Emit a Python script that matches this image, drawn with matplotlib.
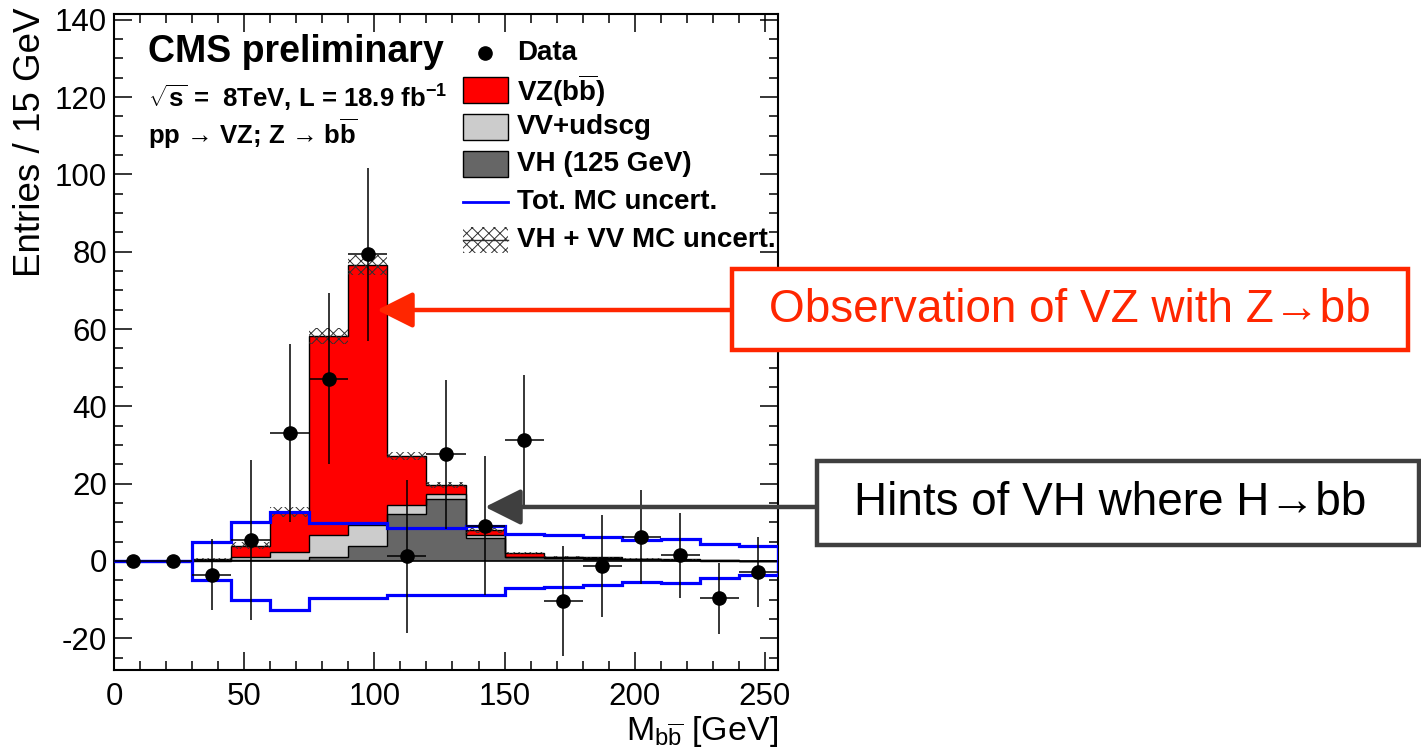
import numpy as np
import matplotlib
matplotlib.use('Agg')
import matplotlib.pyplot as plt
from matplotlib.patches import Rectangle, FancyArrowPatch
from matplotlib.lines import Line2D
from matplotlib.ticker import MultipleLocator

plt.rcParams['font.family'] = ['Liberation Sans', 'DejaVu Sans']
plt.rcParams['mathtext.fontset'] = 'custom'
plt.rcParams['mathtext.rm'] = 'Liberation Sans'
plt.rcParams['mathtext.bf'] = 'Liberation Sans:bold'
plt.rcParams['axes.unicode_minus'] = False
plt.rcParams['hatch.linewidth'] = 0.7

# 15 GeV bins in M(bb)
bin_edges = [0, 15, 30, 45, 60, 75, 90, 105, 120, 135, 150, 165, 180, 195, 210, 225, 240, 255]

# stacked MC components (per bin)
vh_125 = [0, 0, 0.1, 0.3, 0.3, 1.0, 3.9, 12.2, 16.1, 5.9, 0.9, 0.8, 0.6, 0.4, 0.3, 0.1, 0]
vv_udscg = [0, 0, 0.2, 0.7, 2.0, 5.6, 5.5, 2.2, 1.1, 0.7, 0.2, 0.1, 0.1, 0.1, 0.05, 0.05, 0]
vz_bb = [0, 0, 0.2, 3.0, 10.4, 51.6, 67.2, 12.7, 2.4, 1.3, 1.0, 0.2, 0.2, 0.1, 0.05, 0.05, 0]
vhvv_unc = [0, 0, 0.2, 0.8, 1.3, 2.1, 2.6, 1.0, 0.8, 0.6, 0.3, 0.2, 0.2, 0.15, 0.1, 0.05, 0]

# total MC uncertainty band
tot_unc_up = [0, 0, 4.9, 10.2, 12.7, 9.7, 9.7, 8.6, 8.6, 9.0, 7.0, 6.6, 6.2, 5.3, 5.7, 4.3, 3.8]
tot_unc_dn = [0, 0, -5.0, -10.0, -12.8, -9.6, -9.6, -8.7, -8.7, -8.9, -6.9, -6.7, -6.3, -5.4, -5.7, -4.4, -3.7]

# background-subtracted data
data_y = [0, 0, -3.5, 5.5, 33.0, 47.2, 79.3, 1.2, 27.6, 9.1, 31.4, -10.4, -1.3, 6.2, 1.5, -9.7, -2.8]
data_err = [0, 0, 9.3, 20.7, 23.0, 22.0, 22.3, 19.8, 19.2, 18.0, 16.8, 14.3, 13.3, 12.2, 11.0, 9.3, 9.0]

edges = np.array(bin_edges, dtype=float)
centers = 0.5 * (edges[:-1] + edges[1:])
half_width = 0.5 * np.diff(edges)

s1 = np.array(vh_125)
s2 = s1 + np.array(vv_udscg)
s3 = s2 + np.array(vz_bb)
unc = np.array(vhvv_unc)

RED = '#ff2600'
GREY = '#3f3f3f'
BB = r'b$\overline{\mathbf{b}}$'

fig = plt.figure(figsize=(14.21, 7.55), dpi=100)
ax = fig.add_axes([0.0802, 0.1126, 0.4673, 0.8689])

# stack: VH at the bottom, then VV+udscg, then VZ(bb)
ax.stairs(s1, edges, baseline=0, fill=True, color='#666666', zorder=1)
ax.stairs(s2, edges, baseline=s1, fill=True, color='#cccccc', zorder=1)
ax.stairs(s3, edges, baseline=s2, fill=True, color='#ff0000', zorder=1)
for s in (s1, s2, s3):
    ax.stairs(s, edges, color='black', lw=1.0, zorder=2)
ax.axhline(0, color='black', lw=1.2, zorder=2)

# hatched VH+VV uncertainty on top of the stack
ax.stairs(s3 + unc, edges, baseline=s3 - unc, fill=True, facecolor='none',
          edgecolor='#303030', hatch='xxx', lw=0, zorder=3)

# total MC uncertainty
ax.stairs(tot_unc_up, edges, color='#0000ff', lw=2.3, zorder=4)
ax.stairs(tot_unc_dn, edges, color='#0000ff', lw=2.3, zorder=4)

ax.errorbar(centers, data_y, yerr=data_err, xerr=half_width, fmt='o', color='black',
            ms=9.5, elinewidth=1.1, capsize=0, zorder=5)

ax.set_xlim(0, 255)
ax.set_ylim(-28.2, 141.5)
ax.xaxis.set_major_locator(MultipleLocator(50))
ax.xaxis.set_minor_locator(MultipleLocator(10))
ax.yaxis.set_major_locator(MultipleLocator(20))
ax.yaxis.set_minor_locator(MultipleLocator(5))
ax.tick_params(which='both', direction='in', top=True, right=True, width=1.1, labelsize=22.5)
ax.tick_params(which='major', length=13)
ax.tick_params(which='minor', length=6.5)
ax.tick_params(axis='x', pad=9)
ax.tick_params(axis='y', pad=5)
for sp in ax.spines.values():
    sp.set_linewidth(1.5)

ax.set_ylabel('Entries / 15 GeV', fontsize=26.5, loc='top')
ax.yaxis.set_label_coords(-0.1, 1.01)
ax.set_xlabel(r'M$_{\mathrm{b}\overline{\mathrm{b}}}$ [GeV]', fontsize=24.5, loc='right', labelpad=1)

# header
ax.text(0.0512, 0.9268, 'CMS preliminary', transform=ax.transAxes,
        fontsize=27, fontweight='bold', va='baseline')
ax.text(0.0512, 0.8582, r'$\mathbf{\sqrt{s}}$ =  8TeV, L = 18.9 fb$^{\mathbf{-1}}$',
        transform=ax.transAxes, fontsize=18.5, fontweight='bold', va='baseline')
ax.text(0.0512, 0.8018, 'pp → VZ; Z → ' + BB,
        transform=ax.transAxes, fontsize=18.5, fontweight='bold', va='baseline')

# legend
leg_y = [0.9405, 0.884, 0.8277, 0.7713, 0.7134, 0.6555]
lx0, lx1, ltx, lh = 0.5256, 0.5934, 0.607, 0.0396
labels = ['Data', 'VZ(' + BB + ')', 'VV+udscg', 'VH (125 GeV)',
          'Tot. MC uncert.', 'VH + VV MC uncert.']
ax.plot([(lx0 + lx1) / 2], [leg_y[0]], 'o', color='black', ms=9.5, transform=ax.transAxes)
for y, c in zip(leg_y[1:4], ['#ff0000', '#cccccc', '#666666']):
    ax.add_patch(Rectangle((lx0, y - lh / 2), lx1 - lx0, lh, transform=ax.transAxes,
                           facecolor=c, edgecolor='black', lw=1.0))
ax.add_line(Line2D([lx0, lx1], [leg_y[4], leg_y[4]], transform=ax.transAxes,
                   color='#0000ff', lw=2.0))
ax.add_patch(Rectangle((lx0, leg_y[5] - lh / 2), lx1 - lx0, lh, transform=ax.transAxes,
                       facecolor='none', edgecolor='#303030', hatch='xxx', lw=0))
ax.add_line(Line2D([lx0, lx1], [leg_y[5], leg_y[5]], transform=ax.transAxes,
                   color='#303030', lw=1.0))
for y, lab in zip(leg_y, labels):
    ax.text(ltx, y, lab, transform=ax.transAxes, fontsize=20, fontweight='bold', va='center')

# call-out boxes with arrows into the plot
fig.add_artist(Rectangle((0.5151, 0.5364), 0.4757, 0.1073, transform=fig.transFigure,
                         facecolor='white', edgecolor=RED, lw=3.2, zorder=5))
fig.text(0.753, 0.5894, 'Observation of VZ with Z→bb', color=RED, fontsize=33,
         ha='center', va='center', zorder=6)
fig.add_artist(FancyArrowPatch((0.5151, 0.5894), (0.2653, 0.5894), transform=fig.transFigure,
                               arrowstyle='-|>,head_length=1.0,head_width=0.5',
                               mutation_scale=22, lw=3.2, color=RED,
                               shrinkA=0, shrinkB=0, zorder=4))

fig.add_artist(Rectangle((0.575, 0.2781), 0.4236, 0.1113, transform=fig.transFigure,
                         facecolor='white', edgecolor=GREY, lw=3.2, zorder=5))
fig.text(0.7812, 0.3338, 'Hints of VH where H→bb', color='black', fontsize=33,
         ha='center', va='center', zorder=6)
fig.add_artist(FancyArrowPatch((0.575, 0.3285), (0.3413, 0.3285), transform=fig.transFigure,
                               arrowstyle='-|>,head_length=1.0,head_width=0.5',
                               mutation_scale=22, lw=3.2, color=GREY,
                               shrinkA=0, shrinkB=0, zorder=4))

fig.savefig('out.png', dpi=100, facecolor='white')
